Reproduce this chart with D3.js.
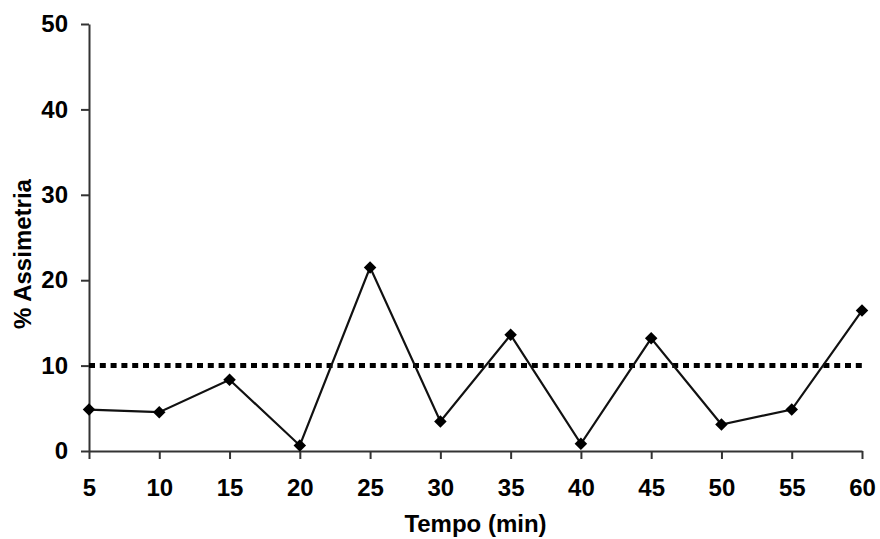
<!DOCTYPE html>
<html>
<head>
<meta charset="utf-8">
<script src="https://cdn.jsdelivr.net/npm/d3@7"></script>
<style>
  html, body { margin: 0; padding: 0; background: #fff; }
  svg { display: block; }
  text { font-family: "Liberation Sans", Arial, sans-serif; font-weight: bold; fill: #000; }
</style>
</head>
<body>
<svg id="chart" width="880" height="539"></svg>
<script>
const times = [5, 10, 15, 20, 25, 30, 35, 40, 45, 50, 55, 60];
const asymmetry = [4.85, 4.55, 8.35, 0.65, 21.5, 3.45, 13.6, 0.85, 13.2, 3.1, 4.85, 16.45];
const threshold = 10;
const yTicks = [0, 10, 20, 30, 40, 50];
const xTitle = "Tempo (min)";
const yTitle = "% Assimetria";

const svg = d3.select("#chart");
const mLeft = 89, mRight = 862, mTop = 24, mBottom = 451;

const x = d3.scaleLinear().domain([5, 60]).range([mLeft, mRight]);
const y = d3.scaleLinear().domain([0, 50]).range([mBottom, mTop]);

// X axis
const xAxis = svg.append("g")
  .attr("transform", `translate(0,${mBottom})`)
  .call(d3.axisBottom(x).tickValues(times).tickFormat(d3.format("d"))
    .tickSizeInner(8).tickSizeOuter(0).tickPadding(20));
// Y axis
const yAxis = svg.append("g")
  .attr("transform", `translate(${mLeft},0)`)
  .call(d3.axisLeft(y).tickValues(yTicks).tickFormat(d3.format("d"))
    .tickSizeInner(8).tickSizeOuter(0).tickPadding(13));

[xAxis, yAxis].forEach(g => {
  g.select(".domain").attr("stroke", "#333").attr("stroke-width", 2);
  g.selectAll(".tick line").attr("stroke", "#333").attr("stroke-width", 2);
  g.selectAll(".tick text")
    .attr("fill", "#000")
    .style("font-size", "24px")
    .style("font-weight", "bold")
    .style("font-family", "'Liberation Sans', Arial, sans-serif");
});

// Threshold dotted line
svg.append("line")
  .attr("x1", x(5)).attr("x2", x(60))
  .attr("y1", y(threshold)).attr("y2", y(threshold))
  .attr("stroke", "#000")
  .attr("stroke-width", 5)
  .attr("stroke-dasharray", "6,4.8");

// Data line
const line = d3.line().x((d, i) => x(times[i])).y(d => y(d));
svg.append("path")
  .datum(asymmetry)
  .attr("fill", "none")
  .attr("stroke", "#111")
  .attr("stroke-width", 2.2)
  .attr("d", line);

// Markers
svg.selectAll(".marker")
  .data(asymmetry)
  .enter().append("path")
  .attr("class", "marker")
  .attr("transform", (d, i) => `translate(${x(times[i])},${y(d)})`)
  .attr("d", d3.symbol(d3.symbolDiamond2, 100))
  .attr("fill", "#000");

// Titles
svg.append("text")
  .attr("x", (mLeft + mRight) / 2)
  .attr("y", 532)
  .attr("text-anchor", "middle")
  .style("font-size", "24px")
  .text(xTitle);

svg.append("text")
  .attr("transform", `translate(31,254) rotate(-90)`)
  .attr("text-anchor", "middle")
  .style("font-size", "24px")
  .text(yTitle);
</script>
</body>
</html>
